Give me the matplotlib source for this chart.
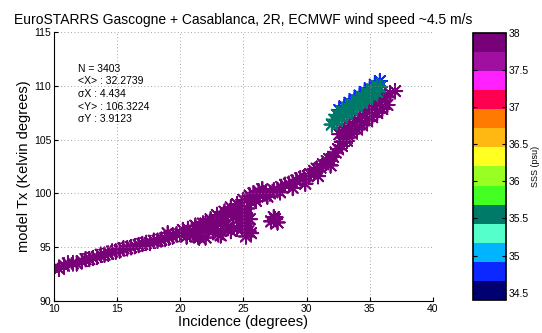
import numpy as np
import matplotlib
matplotlib.use("Agg")
import matplotlib.pyplot as plt
from matplotlib.colors import ListedColormap, Normalize

plt.rcParams['font.family'] = ['Liberation Sans', 'DejaVu Sans']

# SSS colour bands, bottom to top
band_colors = ['#000070', '#0a28ff', '#00b4ff', '#55ffcc', '#007a68', '#44ff22', '#99ff22',
               '#ffff22', '#ffb811', '#ff7a00', '#ff0050', '#ff22ff', '#a010a0', '#780078']
sss_min, sss_max = 34.4, 38.0

# main curve (high SSS, purple)
curve_inc = [10.0, 10.8, 11.5, 12.2, 12.8, 13.4, 14.0, 14.6, 15.2, 15.8, 16.4, 17.0, 17.6,
             18.2, 18.8, 19.4, 20.0, 20.5, 20.6, 21.0, 21.2, 21.6, 21.8, 22.0, 22.2, 22.4,
             22.8, 22.9, 23.0, 23.3, 23.5, 23.8, 24.0, 24.0, 24.2, 24.5, 24.8, 25.0, 25.3,
             25.5, 25.8, 26.2, 26.0, 25.2, 25.3, 25.4, 25.2, 27.5, 27.2, 26.8, 27.4, 28.0,
             28.6, 29.2, 29.8, 30.3, 30.8, 31.3, 31.8, 32.3, 32.8, 33.2,
             10.4, 11.1, 11.8, 12.5, 13.1, 13.7, 14.3, 14.9, 15.5, 16.1, 16.7, 17.3, 17.9,
             18.5, 19.1, 19.7, 20.2, 20.8, 21.3, 21.4, 22.0, 22.6, 22.6, 23.2, 23.6, 23.8,
             24.3, 24.5, 24.6, 25.0, 25.6, 26.3, 26.5, 25.0, 25.6, 25.5, 27.7, 27.4, 27.1,
             27.7, 28.3, 28.9, 29.5, 30.1, 30.6, 31.1, 31.6, 32.1, 32.5,
             26.9, 27.9, 28.9, 29.9, 30.9, 31.9, 19.0, 21.5, 23.2]
curve_tx = [93.1, 93.3, 93.5, 93.7, 93.9, 94.1, 94.3, 94.6, 94.7, 94.9, 95.1, 95.3, 95.4,
            95.6, 95.8, 96.0, 96.2, 96.0, 96.7, 96.4, 97.0, 96.3, 97.2, 95.9, 96.8, 97.6,
            97.0, 98.0, 96.2, 97.4, 98.3, 96.9, 98.7, 96.5, 97.8, 99.0, 98.3, 99.4, 98.6,
            99.8, 100.0, 100.2, 99.3, 98.0, 97.2, 96.5, 96.0, 97.6, 97.4, 100.1, 100.3, 100.6,
            100.9, 101.2, 101.5, 101.8, 102.3, 102.7, 103.2, 103.8, 104.4, 104.9,
            93.0, 93.5, 93.5, 93.9, 94.0, 94.3, 94.4, 94.6, 94.9, 95.0, 95.2, 95.4, 95.6,
            95.7, 95.9, 96.2, 96.6, 96.2, 96.7, 96.0, 97.2, 96.5, 97.3, 97.8, 97.0, 98.2,
            98.3, 96.7, 97.6, 98.0, 99.2, 99.8, 100.4, 96.8, 96.3, 97.6, 97.3, 97.8, 100.0,
            100.3, 100.8, 101.0, 101.4, 101.6, 102.1, 102.4, 103.0, 103.4, 104.1,
            99.7, 100.1, 100.5, 100.9, 101.6, 102.6, 96.3, 95.9, 96.1]
curve_sss = [37.9] * len(curve_inc)

# purple cluster under the teal one
pcl_inc = [32.8, 33.2, 33.6, 34.0, 34.4, 34.8, 35.2, 35.6, 36.0, 36.4,
           32.6, 33.0, 33.4, 33.8, 34.2, 34.6, 35.0, 35.4, 35.8, 36.2, 36.6, 37.0]
pcl_tx = [104.8, 105.18, 105.56, 105.94, 106.32, 106.7, 107.08, 107.46, 107.84, 108.22,
          105.5, 105.88, 106.26, 106.64, 107.02, 107.4, 107.78, 108.16, 108.54, 108.92, 109.3, 109.5]
pcl_sss = [37.9] * len(pcl_inc)

# blue edge of the low-salinity cluster
blue_inc = [32.6, 33.0, 33.4, 33.8, 34.2, 34.6, 35.0, 35.4, 35.8]
blue_tx = [107.75, 108.09, 108.42, 108.76, 109.09, 109.43, 109.77, 110.1, 110.44]
blue_sss = [34.8] * len(blue_inc)

# teal cluster
teal_inc = [32.0, 32.4, 32.8, 33.2, 33.6, 34.0, 34.4, 34.8, 35.2, 35.6,
            32.2, 32.6, 33.0, 33.4, 33.8, 34.2, 34.6, 35.0, 35.4, 35.8,
            32.4, 32.8, 33.2, 33.6, 34.0, 34.4, 34.8, 35.2, 35.6]
teal_tx = [106.4, 106.74, 107.07, 107.41, 107.74, 108.08, 108.42, 108.75, 109.09, 109.42,
           106.85, 107.19, 107.52, 107.86, 108.19, 108.53, 108.87, 109.2, 109.54, 109.87,
           107.3, 107.64, 107.97, 108.31, 108.64, 108.98, 109.32, 109.65, 109.99]
teal_sss = [35.55] * len(teal_inc)

stats = ["N = 3403", "<X> : 32.2739", "\u03c3X : 4.434", "<Y> : 106.3224", "\u03c3Y : 3.9123"]

cmap = ListedColormap(band_colors)
norm = Normalize(vmin=sss_min, vmax=sss_max)

fig = plt.figure(figsize=(5.42, 3.33), dpi=100)
ax = fig.add_axes([0.0996, 0.096, 0.699, 0.808])
cax = fig.add_axes([0.873, 0.099, 0.061, 0.802])

star = (8, 2, 0)
for inc, tx, sss in [(curve_inc, curve_tx, curve_sss), (pcl_inc, pcl_tx, pcl_sss),
                     (blue_inc, blue_tx, blue_sss), (teal_inc, teal_tx, teal_sss)]:
    ax.scatter(inc, tx, c=sss, cmap=cmap, norm=norm, marker=star, s=110, linewidths=1.3)

ax.set_xlim(10, 40)
ax.set_ylim(90, 115)
ax.set_xticks(range(10, 41, 5))
ax.set_yticks(range(90, 116, 5))
ax.grid(True, linestyle=(0, (1, 3)), color='#888888', linewidth=0.6)
for s in ['top', 'right']:
    ax.spines[s].set_visible(False)
ax.tick_params(direction='in', labelsize=7.5, length=3, pad=2)
ax.set_xlabel("Incidence (degrees)", fontsize=10.5, labelpad=1)
ax.set_ylabel("model Tx (Kelvin degrees)", fontsize=10.5, labelpad=2)
ax.set_title("EuroSTARRS Gascogne + Casablanca, 2R, ECMWF wind speed ~4.5 m/s", fontsize=10, pad=6)

for i, t in enumerate(stats):
    ax.text(11.9, 111.6 - i * 1.18, t, fontsize=7.5, va='center')

sm = plt.cm.ScalarMappable(cmap=cmap, norm=norm)
cb = fig.colorbar(sm, cax=cax)
cb.set_ticks(np.arange(34.5, 38.01, 0.5))
cb.set_ticklabels(['34.5', '35', '35.5', '36', '36.5', '37', '37.5', '38'])
cax.tick_params(labelsize=7.5, direction='in', length=3, left=True, right=True, pad=2)
cb.outline.set_linewidth(1.2)
cb.set_label("SSS (psu)", fontsize=6.5, labelpad=1)

fig.savefig("out.png", dpi=100)
